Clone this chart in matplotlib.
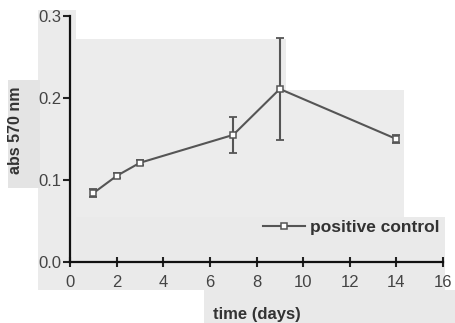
import matplotlib
matplotlib.use("Agg")
import matplotlib.pyplot as plt
from matplotlib.patches import Rectangle

days = [1, 2, 3, 7, 9, 14]
absorbance = [0.084, 0.105, 0.121, 0.155, 0.211, 0.150]
errors = [0.005, 0.003, 0.003, 0.022, 0.062, 0.005]
x_ticks = [0, 2, 4, 6, 8, 10, 12, 14, 16]
y_ticks = [0.0, 0.1, 0.2, 0.3]
y_tick_labels = ["0.0", "0.1", "0.2", "0.3"]

plt.rcParams["font.family"] = ["Liberation Sans", "DejaVu Sans"]

W, H = 456, 323
fig = plt.figure(figsize=(W / 100, H / 100), dpi=100)
fig.patch.set_facecolor("white")

# grey patches of the scanned page (pixel boxes: x0, y0, x1, y1)
patches = [
    (38, 10, 76, 290, "#ebebeb"),
    (8, 80, 40, 188, "#e4e4e4"),
    (76, 39, 286, 90, "#ececec"),
    (76, 90, 404, 217, "#ececec"),
    (76, 217, 445, 290, "#eaeaea"),
    (204, 290, 456, 323, "#e9e9e9"),
]
for x0, y0, x1, y1, c in patches:
    fig.patches.append(Rectangle((x0 / W, 1 - y1 / H), (x1 - x0) / W, (y1 - y0) / H,
                                 transform=fig.transFigure, facecolor=c,
                                 edgecolor="none", zorder=-5))

ax = fig.add_axes([70 / W, 1 - 262 / H, 373 / W, 246 / H])
ax.set_zorder(2)
ax.patch.set_alpha(0)

ax.errorbar(days, absorbance, yerr=errors, fmt="none", ecolor="#555555",
            elinewidth=1.5, capsize=3, capthick=1.3, clip_on=False, zorder=3)
ax.plot(days, absorbance, color="#555555", lw=1.5, marker="s", ms=4.5,
        mfc="white", mec="#555555", mew=1.1, label="positive control",
        clip_on=False, zorder=4)

ax.set_xlim(0, 16)
ax.set_ylim(0, 0.3)
ax.set_xticks(x_ticks)
ax.set_yticks(y_ticks)
ax.set_yticklabels(y_tick_labels)

for s in ["top", "right"]:
    ax.spines[s].set_visible(False)
for s in ["left", "bottom"]:
    ax.spines[s].set_linewidth(1.6)
    ax.spines[s].set_color("#111111")

ax.tick_params(axis="x", direction="inout", length=7, width=1.5, color="#222222",
               labelsize=12, labelcolor="#444444", pad=6)
ax.tick_params(axis="y", direction="out", length=5, width=1.5, color="#222222",
               labelsize=12, labelcolor="#444444", pad=1)

ax.set_xlabel("time (days)", fontsize=12, fontweight="bold", color="#333333", labelpad=12)
ax.set_ylabel("abs 570 nm", fontsize=11.5, fontweight="bold", color="#333333")
ax.yaxis.set_label_coords(-0.125, 0.537)

leg = ax.legend(loc="center left", bbox_to_anchor=(0.495, 0.142), frameon=False,
                handlelength=2.4, handletextpad=0.3, borderpad=0,
                prop={"size": 12.5, "weight": "bold"})
for t in leg.get_texts():
    t.set_color("#333333")

fig.savefig("out.png", dpi=100)
